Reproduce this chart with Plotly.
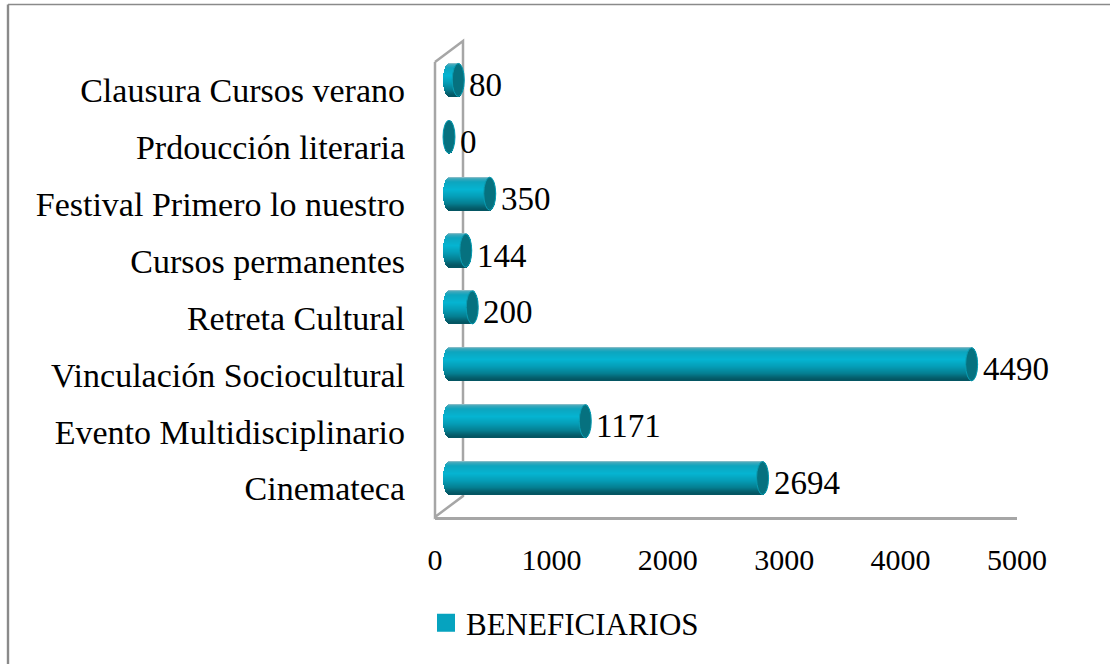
import numpy as np
import plotly.graph_objects as go

categories = ["Cinemateca", "Evento Multidisciplinario", "Vinculación Sociocultural",
              "Retreta Cultural", "Cursos permanentes", "Festival Primero lo nuestro",
              "Prdoucción literaria", "Clausura Cursos verano"]
values = [2694, 1171, 4490, 200, 144, 350, 0, 80]
series_name = "BENEFICIARIOS"
x_ticks = [0, 1000, 2000, 3000, 4000, 5000]

W, H = 1110, 664
L, R, T, B = 435, 1017, 62, 517      # front plane of the 3-D box, pixels
DX, DY = 28, 21                      # depth of the box, pixels
MID_X, MID_Y = 14, 10.5              # bars stand in the middle of the depth
px_x = (R - L) / 5000
px_y = (B - T) / 8
BAR_H = 33                           # bar thickness, px
CAP_RX = 6                           # half-width of the end ellipses, px

SERIF = "Liberation Serif"
GRAY = "#a6a6a6"
STOPS = [(0.0, "#9fc4cc"), (0.05, "#3fa9bc"), (0.15, "#0da5bf"), (0.38, "#05b5d2"),
         (0.60, "#059db6"), (0.80, "#067f92"), (0.93, "#05606e"), (1.0, "#045460")]


def hex2rgb(c):
    return np.array([int(c[i:i + 2], 16) for i in (1, 3, 5)], float)


def grad(t):
    for (a, ca), (b, cb) in zip(STOPS, STOPS[1:]):
        if t <= b:
            f = (t - a) / (b - a)
            r = hex2rgb(ca) * (1 - f) + hex2rgb(cb) * f
            return "rgb(%d,%d,%d)" % tuple(r)
    return STOPS[-1][1]


xr_bar = [-MID_X / px_x, (R - L - MID_X) / px_x]
yr_bar = [-0.5 - MID_Y / px_y, 7.5 - MID_Y / px_y]
rx = CAP_RX / px_x
ry = BAR_H / 2 / px_y

fig = go.Figure()

# The cylinder bodies: one thin overlaid bar per gradient row
N = BAR_H
row_h = 1 / px_y
for k in range(N):
    t = (k + 0.5) / N
    u = 2 * t - 1
    edge = rx * np.sqrt(max(1 - u * u, 0))
    base = [-edge] * len(values)
    length = [v + edge + edge for v in values]
    fig.add_trace(go.Bar(
        y=categories, x=length, base=base, orientation="h",
        width=row_h * 1.6, offset=ry - (k + 1) * row_h,
        marker=dict(color=grad(t), line=dict(width=0)),
        showlegend=False, hoverinfo="skip", xaxis="x", yaxis="y"))

# End ellipses
for i, v in enumerate(values):
    fig.add_shape(type="circle", xref="x", yref="y", layer="above",
                  x0=v - rx, x1=v + rx, y0=i - ry, y1=i + ry,
                  fillcolor="#06717f", line=dict(color="#0a9db3", width=1))

# Value labels
for i, v in enumerate(values):
    fig.add_annotation(x=v, y=i, xref="x", yref="y", text=str(v), showarrow=False,
                       xanchor="left", xshift=9, yshift=-5,
                       font=dict(family=SERIF, size=33, color="#000000"))

# Carrier for the front-plane axes and the legend entry
fig.add_trace(go.Scatter(
    x=[None] * len(values), y=categories, mode="markers", name=series_name,
    marker=dict(symbol="square", size=16, color="#06a3bf",
                line=dict(color="#06a3bf", width=2)),
    xaxis="x2", yaxis="y2", hoverinfo="skip"))

# Box walls
fig.add_shape(type="path", xref="paper", yref="paper", layer="below",
              path="M {0} {1} L {2} {3} L {4} {5} L {6} {7} L {0} {1}".format(
                  L / W, 1 - T / H, (L + DX) / W, 1 - (T - DY) / H,
                  (L + DX) / W, 1 - (B - DY) / H, L / W, 1 - B / H),
              line=dict(color=GRAY, width=2.5))
# Outer frame: only the top and left edges fall inside the picture
fig.add_shape(type="line", xref="paper", yref="paper", layer="below",
              x0=8 / W, x1=1 + 2 / W, y0=1 - 4.5 / H, y1=1 - 4.5 / H,
              line=dict(color="#8a8a8a", width=1.6))
fig.add_shape(type="line", xref="paper", yref="paper", layer="below",
              x0=8 / W, x1=8 / W, y0=1 - 4.5 / H, y1=-2 / H,
              line=dict(color="#8a8a8a", width=2.4))

fig.update_layout(
    width=W, height=H, margin=dict(l=0, r=0, t=0, b=0, autoexpand=False),
    paper_bgcolor="#ffffff", plot_bgcolor="rgba(0,0,0,0)",
    barmode="overlay", bargap=0,
    xaxis=dict(domain=[L / W, R / W], range=xr_bar, visible=False, fixedrange=True),
    yaxis=dict(domain=[1 - B / H, 1 - T / H], range=yr_bar, visible=False,
               type="category", categoryorder="array", categoryarray=categories),
    xaxis2=dict(domain=[L / W, R / W], range=[0, 5000], overlaying="x", anchor="y2",
                tickvals=x_ticks, showgrid=False, zeroline=False, showline=True,
                linecolor=GRAY, linewidth=2.5, ticks="", ticklabelstandoff=14,
                tickfont=dict(family=SERIF, size=30, color="#000000")),
    yaxis2=dict(domain=[1 - B / H, 1 - T / H], range=[-0.5, 7.5], overlaying="y", anchor="x2",
                type="category", categoryorder="array", categoryarray=categories,
                tickvals=categories, showgrid=False, zeroline=False, showline=False,
                ticks="", ticklabelstandoff=29,
                tickfont=dict(family=SERIF, size=34, color="#000000")),
    showlegend=True,
    legend=dict(x=426 / W, y=1 - 623 / H, xanchor="left", yanchor="middle",
                xref="container", yref="container",
                font=dict(family=SERIF, size=31, color="#000000"),
                bgcolor="rgba(0,0,0,0)"),
    hovermode=False,
)

fig.write_html("out.html", default_width="1110px", default_height="664px",
               config={"responsive": False, "displayModeBar": False},
               post_script="document.body.style.margin='0';document.documentElement.style.overflow='hidden';")
